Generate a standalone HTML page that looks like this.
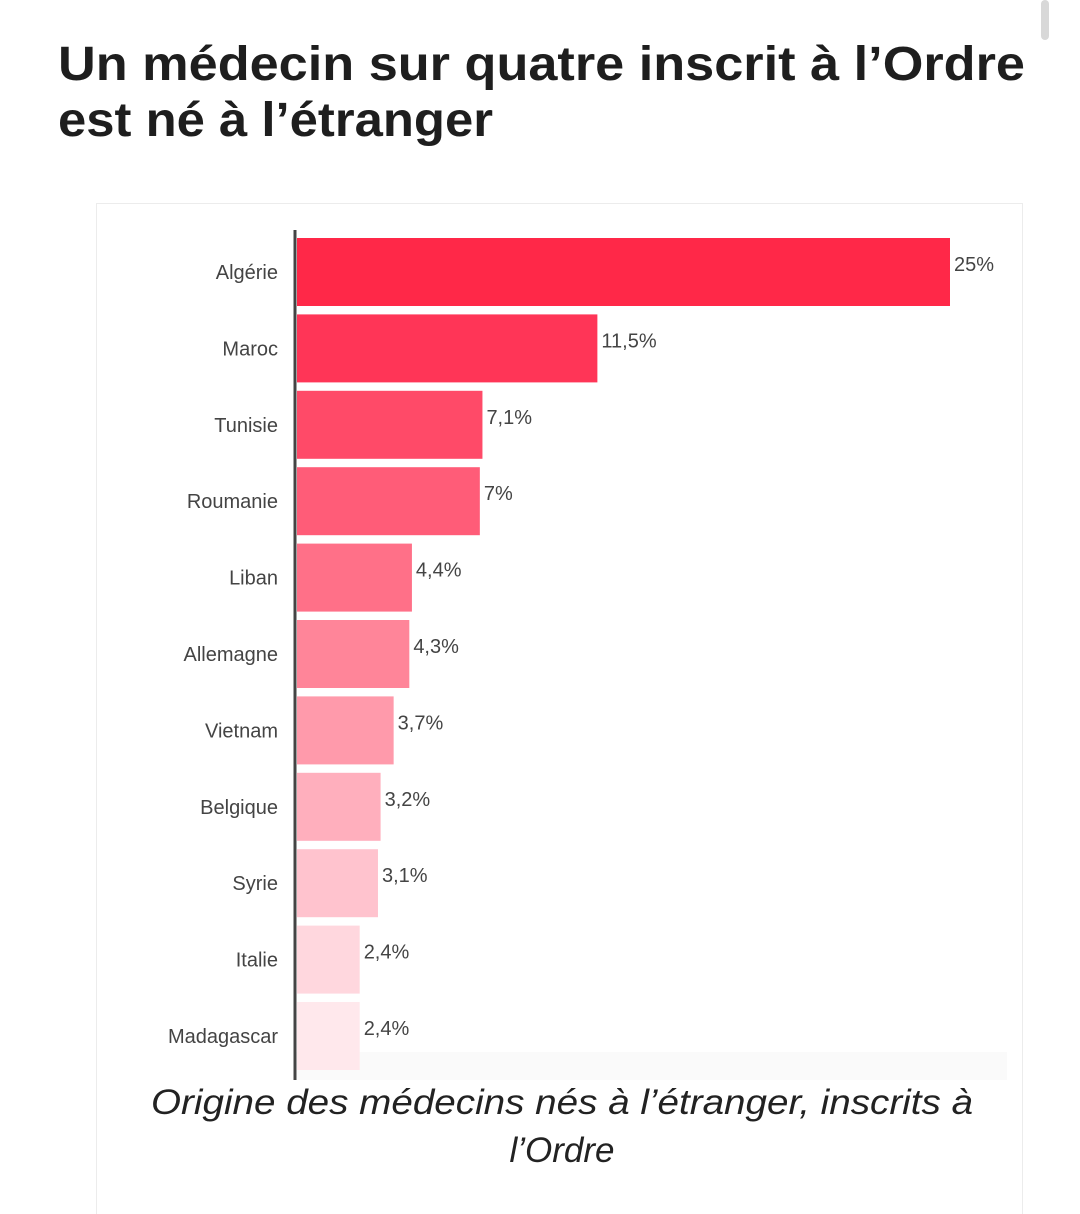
<!DOCTYPE html>
<html><head><meta charset="utf-8"><style>
html,body{margin:0;padding:0;background:#fff;width:1080px;height:1214px;overflow:hidden}
svg{display:block}
</style></head><body>
<svg id="chart" width="1080" height="1214" viewBox="0 0 1080 1214" xmlns="http://www.w3.org/2000/svg" font-family="'Liberation Sans', sans-serif">
  <rect x="1041" y="0" width="8" height="40" rx="4" fill="#d8d8d8"/>
  <text x="58" y="80" font-size="48" font-weight="bold" fill="#1e1e1e" textLength="967" lengthAdjust="spacingAndGlyphs">Un médecin sur quatre inscrit à l’Ordre</text>
  <text x="58" y="136" font-size="48" font-weight="bold" fill="#1e1e1e" textLength="435" lengthAdjust="spacingAndGlyphs">est né à l’étranger</text>
  <rect x="96.5" y="203.5" width="926" height="1020" fill="#fff" stroke="#ececec"/>
  <rect x="296" y="1052" width="711" height="28" fill="#fafafa"/>
  <g id="bars"></g>
  <line x1="295" y1="230" x2="295" y2="1080" stroke="#444" stroke-width="3"/>
  <text x="562" y="1114" font-size="35" font-style="italic" fill="#222" text-anchor="middle" textLength="822" lengthAdjust="spacingAndGlyphs">Origine des médecins nés à l’étranger, inscrits à</text>
  <text x="562" y="1162" font-size="35" font-style="italic" fill="#222" text-anchor="middle">l’Ordre</text>
</svg>
<script>
const categories = ["Algérie","Maroc","Tunisie","Roumanie","Liban","Allemagne","Vietnam","Belgique","Syrie","Italie","Madagascar"];
const values = [25, 11.5, 7.1, 7, 4.4, 4.3, 3.7, 3.2, 3.1, 2.4, 2.4];
const valueLabels = ["25%","11,5%","7,1%","7%","4,4%","4,3%","3,7%","3,2%","3,1%","2,4%","2,4%"];
const colors = ["#ff2848","#ff3557","#ff4a68","#ff5c78","#ff7088","#ff8599","#ff9aab","#ffafbd","#ffc3ce","#ffd7de","#ffe8ec"];

const NS = "http://www.w3.org/2000/svg";
const x0 = 297, maxW = 653, maxV = 25;
function xScale(v){ return maxW * v / maxV; }
const y0 = 238, pitch = 76.4, barH = 68;
function yScale(i){ return y0 + i * pitch; }
const g = document.getElementById("bars");
categories.forEach((c, i) => {
  const y = yScale(i), w = xScale(values[i]);
  const r = document.createElementNS(NS, "rect");
  r.setAttribute("x", x0); r.setAttribute("y", y);
  r.setAttribute("width", w); r.setAttribute("height", barH);
  r.setAttribute("fill", colors[i]);
  
  
  g.appendChild(r);
  const l = document.createElementNS(NS, "text");
  l.setAttribute("x", 278); l.setAttribute("y", y + barH / 2 + 7);
  l.setAttribute("text-anchor", "end"); l.setAttribute("font-size", "20");
  l.setAttribute("fill", "#444");
  l.textContent = c;
  
  
  g.appendChild(l);
  const t = document.createElementNS(NS, "text");
  t.setAttribute("x", x0 + w + 4); t.setAttribute("y", y + barH / 2 - 1);
  t.setAttribute("font-size", "20"); t.setAttribute("fill", "#444");
  t.textContent = valueLabels[i];
  
  
  g.appendChild(t);
});
</script>
</body></html>
